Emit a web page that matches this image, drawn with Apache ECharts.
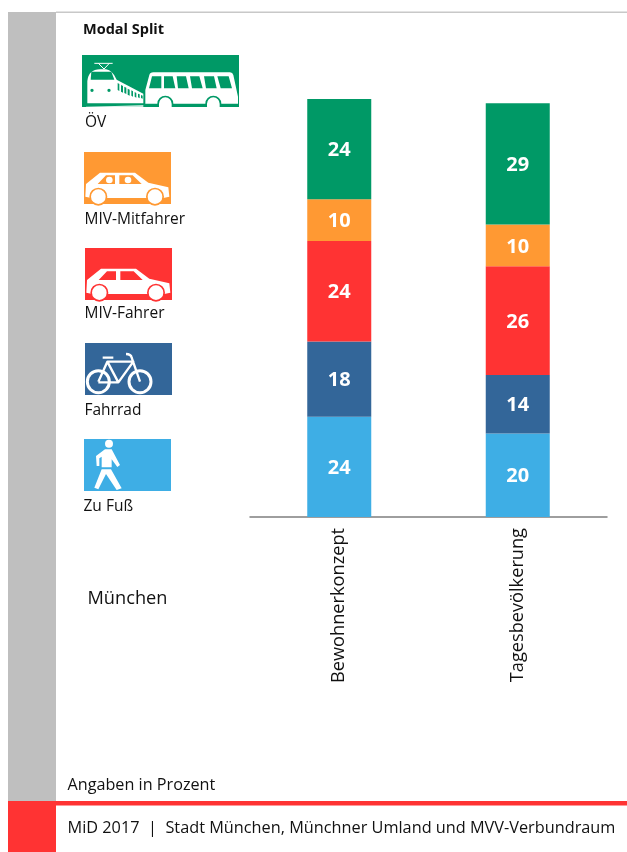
<!DOCTYPE html>
<html><head><meta charset="utf-8">
<style>html,body{margin:0;padding:0;background:#fff}#c{width:627px;height:852px}</style>
<script src="https://cdn.jsdelivr.net/npm/echarts@6/dist/echarts.min.js"></script>
</head><body><div id="c"></div>
<script>
const categories = ['Bewohnerkonzept', 'Tagesbevölkerung'];
const seriesNames = ['Zu Fuß', 'Fahrrad', 'MIV-Fahrer', 'MIV-Mitfahrer', 'ÖV'];
const zuFuss = [24, 20];
const fahrrad = [18, 14];
const mivFahrer = [24, 26];
const mivMitfahrer = [10, 10];
const oev = [24, 29];
const seriesValues = [zuFuss, fahrrad, mivFahrer, mivMitfahrer, oev];
const colors = ['#3EAEE5', '#336699', '#FF3333', '#FF9933', '#009966'];

const FONT = '"Open Sans","Noto Sans",sans-serif';
const WHITE = '#fff';
let shapeCount = 0;
function icon(d, x, y, fill, stroke, sw) {
  const name = 'iconShape' + (shapeCount++);
  echarts.graphic.registerShape(name, echarts.graphic.extendPath(d, {}));
  return { type: name, x: x, y: y, scaleX: 1/3, scaleY: 1/3, silent: true,
    style: { fill: fill, stroke: stroke || null, lineWidth: sw || 0, lineCap: 'butt', lineJoin: 'round' } };
}
function rect(x, y, w, h, fill) {
  return { type: 'rect', silent: true, shape: { x: x, y: y, width: w, height: h }, style: { fill: fill } };
}
function text(t, x, y, size, weight) {
  return { type: 'text', silent: true, x: x, y: y,
    style: { text: t, font: (weight || 'normal') + ' ' + size + 'px ' + FONT, fill: '#111', textBaseline: 'middle', textAlign: 'left', verticalAlign: 'middle' } };
}
function circ(cx, cy, r) {
  return 'M' + (cx - r) + ',' + cy + ' A' + r + ',' + r + ' 0 1 1 ' + (cx + r) + ',' + cy + ' A' + r + ',' + r + ' 0 1 1 ' + (cx - r) + ',' + cy + ' Z ';
}
function car(x, y, bg, heads) {
  const out = [rect(x, y, 87, 52, bg)];
  out.push(icon('M4,134 L6,96 L48,62 L153,62 L193,92 L253,106 L256,134 L238,138 L22,138 Z', x, y, WHITE));
  out.push(icon(circ(43, 134, 27) + circ(213, 134, 27), x, y, bg));
  out.push(icon(circ(43, 134, 22) + circ(213, 134, 22), x, y, WHITE));
  out.push(icon('M41,96 L66,70 L93,70 L93,96 Z M106,70 L146,70 L173,96 L106,96 Z', x, y, bg));
  if (heads) out.push(icon(circ(76, 84, 10) + circ(132, 84, 10), x, y, WHITE));
  return out;
}
function train(x, y, bg) {
  const o = [rect(x, y, 157, 52, bg)];
  o.push(icon('M37,25 L92,25', x, y, null, WHITE, 3));
  o.push(icon('M49,25 L66,42 L82,25', x, y, null, WHITE, 3));
  o.push(icon('M16,142 L16,78 Q20,43 54,43 L72,43 Q92,46 104,74 L184,116 L184,145 L16,145 Z', x, y, WHITE));
  o.push(icon('M26,74 L28,50 L88,50 L97,74 Z', x, y, bg));
  o.push(icon(circ(30, 106, 5) + circ(81, 106, 5), x, y, bg));
  o.push(icon('M107,84 L112,87 L112,108 L107,105 Z M117,90 L123,93 L123,113 L117,110 Z M127,95 L133,98 L133,117 L127,114 Z M137,101 L143,104 L143,122 L137,119 Z M148,106 L153,109 L153,125 L148,122 Z M158,111 L163,114 L163,128 L158,125 Z M168,116 L173,118 L173,130 L168,127 Z M177,120 L182,122 L182,131 L177,129 Z', x, y, bg));
  o.push(icon('M12,155 L184,151 L184,155 L12,156 Z', x, y, WHITE));
  o.push(icon('M190,140 L190,105 L202,60 Q204,52 214,52 L444,52 Q452,52 454,60 L468,125 L468,146 L190,146 Z', x, y, WHITE));
  o.push(icon('M201,100 L210,64 L238,64 L238,100 Z M246,64 L272,64 L280,100 L246,100 Z M284,64 L312,64 L320,100 L288,100 Z M324,64 L352,64 L362,100 L330,100 Z M366,64 L396,64 L404,100 L372,100 Z M406,64 L440,64 L450,100 L416,100 Z', x, y, bg));
  o.push(icon('M226,156 L226,146 A24,24 0 0 1 274,146 L274,156 Z M370,156 L370,146 A24,24 0 0 1 418,146 L418,156 Z', x, y, bg));
  o.push(icon('M231,156 L231,146 A19,19 0 0 1 269,146 L269,156 Z M375,156 L375,146 A19,19 0 0 1 413,146 L413,156 Z', x, y, WHITE));
  return o;
}
function bike(x, y, bg) {
  const o = [rect(x, y, 87, 52, bg)];
  o.push(icon(circ(40, 116, 33) + circ(165, 116, 33), x, y, null, WHITE, 9));
  o.push(icon('M40,116 L67,56 L145,56 L100,118 L40,118 M67,56 L100,118 M53,44 L85,44 M123,33 Q138,33 140,44 L165,116', x, y, null, WHITE, 7));
  return o;
}
function walker(x, y, bg) {
  const o = [rect(x, y, 87, 52, bg)];
  o.push(icon(circ(75, 14, 12), x, y, WHITE));
  o.push(icon('M63,31 L83,31 L108,78 L100,84 L83,61 L83,85 L53,85 L53,53 L46,58 L46,81 L38,81 L36,51 Z', x, y, WHITE));
  o.push(icon('M53,91 L81,91 L113,148 L98,153 L66,105 L43,151 L31,146 Z', x, y, WHITE));
  return o;
}

const chart = echarts.init(document.getElementById('c'), null, { renderer: 'canvas' });
const g = [
  rect(8, 12, 48, 789, '#BFBFBF'),
  rect(56, 11.5, 571, 1.5, '#C8C8C8'),
  rect(8, 801, 48, 51, '#FF3333'),
  rect(56, 801, 571, 4.5, '#FF3333'),
  text('Modal Split', 83, 30, 14.5, 'bold'),
  ...train(82, 55, colors[4]),
  text(seriesNames[4], 85, 123, 15.5),
  ...car(84, 152, colors[3], true),
  text(seriesNames[3], 84.5, 220, 15.5),
  ...car(85, 248, colors[2], false),
  text(seriesNames[2], 84.5, 314, 15.5),
  ...bike(85, 343, colors[1]),
  text(seriesNames[1], 84.5, 411, 15.5),
  ...walker(84, 439, colors[0]),
  text(seriesNames[0], 83.5, 507, 15.5),
  text('München', 87.5, 599, 18.2),
  text('Angaben in Prozent', 67.5, 785, 16.2),
  text('MiD 2017  |  Stadt München, Münchner Umland und MVV-Verbundraum', 67.5, 828, 16.3)
];
chart.setOption({
  animation: false,
  backgroundColor: '#fff',
  grid: { left: 250, right: 20, top: 99, bottom: 335, containLabel: false },
  xAxis: {
    type: 'category', data: categories,
    axisLine: { lineStyle: { color: '#7f7f7f', width: 1.5 } },
    axisTick: { show: false },
    axisLabel: { rotate: 90, margin: 11, fontSize: 18.2, color: '#111', fontFamily: FONT, interval: 0 }
  },
  yAxis: { type: 'value', min: 0, max: 100, show: false, splitLine: { show: false } },
  series: seriesNames.map((name, i) => ({
    name: name, type: 'bar', stack: 'modal', barWidth: 64, data: seriesValues[i],
    itemStyle: { color: colors[i] },
    label: { show: true, position: 'inside', offset: [0, 1.5], color: '#fff', fontWeight: 'bold', fontSize: 20, fontFamily: FONT }
  })),
  graphic: { elements: g }
});
</script></body></html>
